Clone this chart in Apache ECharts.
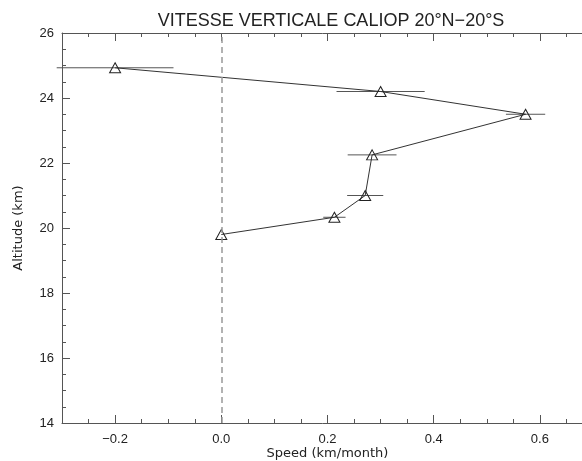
<!DOCTYPE html>
<html>
<head>
<meta charset="utf-8">
<script src="https://cdn.jsdelivr.net/npm/echarts@6/dist/echarts.min.js"></script>
<style>
  html, body { margin: 0; padding: 0; background: #fff; }
  #main { width: 582px; height: 461px; }
</style>
</head>
<body>
<div id="main"></div>
<script>
// vitesse verticale, profil 20N-20S
var speed = [-0.20, 0.30, 0.573, 0.284, 0.271, 0.213, 0.0];
var altitude = [24.93, 24.20, 23.50, 22.25, 21.00, 20.33, 19.80];
var speedErr = [0.11, 0.083, 0.037, 0.046, 0.034, 0.021, 0];
var xMajorTicks = [-0.2, 0.0, 0.2, 0.4, 0.6];

var chart = echarts.init(document.getElementById('main'));

var fontFam = 'Liberation Sans';
var nameFont = 'DejaVu Sans';
var axisCol = '#555';

var points = speed.map(function (s, i) { return [s, altitude[i]]; });
var bars = speed.map(function (s, i) { return [s, altitude[i], speedErr[i]]; });

function xAx(pos, major) {
    return {
        type: 'value',
        position: pos,
        min: -0.3,
        max: 0.7,
        interval: 0.05,
        axisLine: { show: major, onZero: false, lineStyle: { color: axisCol, width: 1 } },
        axisTick: major ? {
            show: true, inside: true, length: 8,
            customValues: xMajorTicks,
            lineStyle: { color: axisCol }
        } : {
            show: true, inside: true, length: 4,
            lineStyle: { color: axisCol }
        },
        axisLabel: (major && pos === 'bottom') ? {
            show: true,
            customValues: xMajorTicks,
            color: '#222',
            fontFamily: fontFam,
            fontSize: 13,
            margin: 10,
            formatter: function (v) {
                var t = v.toFixed(1);
                return v < 0 ? '\u2212' + t.slice(1) : t;
            }
        } : { show: false },
        splitLine: { show: false },
        name: (major && pos === 'bottom') ? 'Speed (km/month)' : '',
        nameLocation: 'middle',
        nameGap: 24,
        nameMoveOverlap: false,
        nameTextStyle: { color: '#222', fontFamily: nameFont, fontSize: 13 }
    };
}

var option = {
    animation: false,
    backgroundColor: '#fff',
    title: {
        text: 'VITESSE VERTICALE CALIOP 20\u00b0N\u221220\u00b0S',
        left: 326,
        top: 7,
        textAlign: 'center',
        textStyle: { color: '#222', fontFamily: fontFam, fontSize: 18, fontWeight: 'normal' }
    },
    grid: { left: 62, right: -11, top: 33, bottom: 38, containLabel: false, outerBoundsMode: 'none' },
    xAxis: [xAx('bottom', true), xAx('bottom', false), xAx('top', true), xAx('top', false)],
    yAxis: [
        {
            type: 'value',
            min: 14,
            max: 26,
            interval: 2,
            axisLine: { show: true, onZero: false, lineStyle: { color: axisCol } },
            axisTick: { show: true, inside: true, length: 8, lineStyle: { color: axisCol } },
            minorTick: { show: true, splitNumber: 4, length: 4, lineStyle: { color: axisCol } },
            axisLabel: { color: '#222', fontFamily: fontFam, fontSize: 13, margin: 8 },
            splitLine: { show: false },
            name: 'Altitude (km)',
            nameLocation: 'middle',
            nameGap: 37,
            nameTextStyle: { color: '#222', fontFamily: nameFont, fontSize: 13 }
        }
    ],
    series: [
        {
            name: 'err',
            type: 'custom',
            xAxisIndex: 0,
            yAxisIndex: 0,
            clip: false,
            silent: true,
            renderItem: function (params, api) {
                var x = api.value(0), y = api.value(1), e = api.value(2);
                if (!e) return null;
                var p1 = api.coord([x - e, y]);
                var p2 = api.coord([x + e, y]);
                return {
                    type: 'line',
                    shape: { x1: p1[0], y1: p1[1], x2: p2[0], y2: p2[1] },
                    style: { stroke: '#555', lineWidth: 1 }
                };
            },
            data: bars,
            z: 2
        },
        {
            name: 'vitesse',
            type: 'line',
            xAxisIndex: 0,
            yAxisIndex: 0,
            data: points,
            symbol: 'triangle',
            symbolSize: [11, 10],
            showAllSymbol: true,
            lineStyle: { color: '#333', width: 1 },
            itemStyle: { color: 'rgba(255,255,255,0)', borderColor: '#222', borderWidth: 1 },
            z: 3,
            markLine: {
                silent: true,
                symbol: 'none',
                label: { show: false },
                lineStyle: { color: '#999', type: [6, 4], width: 1.5 },
                data: [{ xAxis: 0 }]
            }
        }
    ]
};

chart.setOption(option);
</script>
</body>
</html>
